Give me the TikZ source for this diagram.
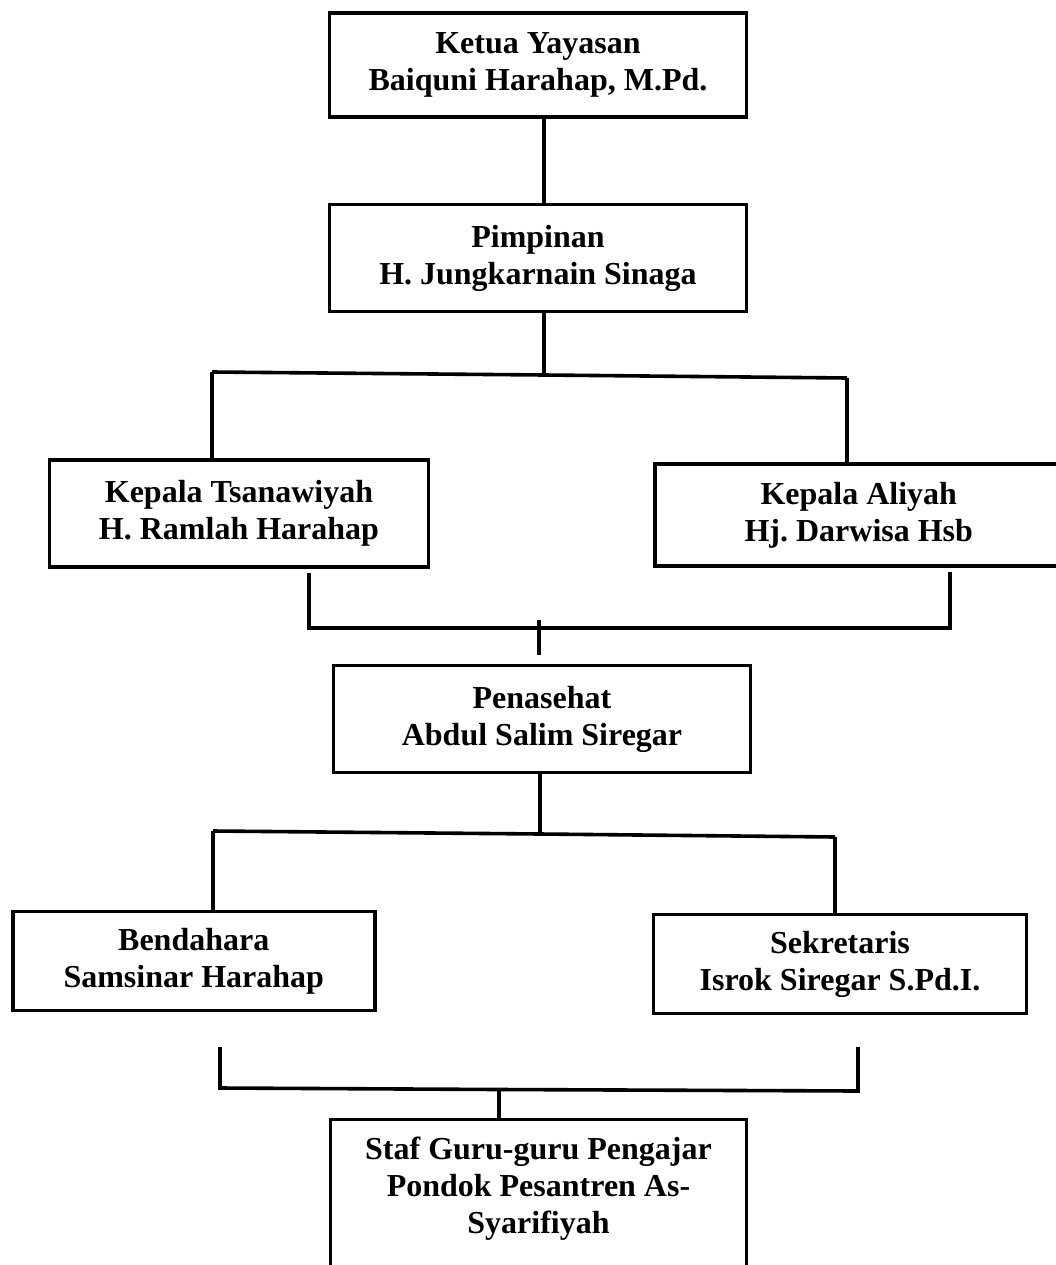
\documentclass[tikz,border=0pt]{standalone}
\usepackage{fontspec}
\setmainfont{Liberation Serif}
\begin{document}
\begin{tikzpicture}[x=1pt,y=-1pt,
  box/.style={draw, line width=3.8pt, rectangle, align=center,
    font=\fontsize{32}{37}\selectfont\bfseries\frenchspacing, inner sep=0pt},
  link/.style={line width=3.6pt}]
\clip (0,0) rectangle (1056,1265);
\fill[white] (0,0) rectangle (1056,1265);

% boxes
\node[box, minimum width=417pt, minimum height=104pt] (ketua) at (538,65)
  {Ketua Yayasan\\Baiquni Harahap, M.Pd.};
\node[box, minimum width=417pt, minimum height=107pt] (pimpinan) at (538,258)
  {Pimpinan\\H. Jungkarnain Sinaga};
\node[box, minimum width=379pt, minimum height=107pt] (tsan) at (239,513.5)
  {Kepala Tsanawiyah\\H. Ramlah Harahap};
\node[box, minimum width=408pt, minimum height=102pt] (aliyah) at (858.75,515)
  {Kepala Aliyah\\Hj. Darwisa Hsb};
\node[box, minimum width=417pt, minimum height=107pt] (penasehat) at (542,719)
  {Penasehat\\Abdul Salim Siregar};
\node[box, minimum width=362pt, minimum height=99pt] (bendahara) at (193.75,961)
  {Bendahara\\Samsinar Harahap};
\node[box, minimum width=373pt, minimum height=99pt] (sekretaris) at (840,964)
  {Sekretaris\\Isrok Siregar S.Pd.I.};
\node[box, anchor=north, minimum width=416pt, inner ysep=18pt] (staf) at (538.5,1117.5)
  {Staf Guru-guru Pengajar\\Pondok Pesantren As-\\Syarifiyah\\[80pt]\mbox{}};

% level 1
\coordinate (a1) at (544,0);
\draw[link] (ketua.south -| a1) -- (pimpinan.north -| a1);

% level 2
\coordinate (j1L) at (212,372);
\coordinate (j1M) at (544,375);
\coordinate (j1R) at (847,378);
\draw[link] (pimpinan.south -| j1M) -- (j1M);
\draw[link] (j1L) -- (j1M) -- (j1R);
\draw[link] (j1L) -- (j1L |- tsan.north);
\draw[link] (j1R) -- (j1R |- aliyah.north);

% level 3
\coordinate (d2L) at (309,573);
\coordinate (j2L) at (309,628);
\coordinate (d2R) at (950,572);
\coordinate (j2R) at (950,628);
\coordinate (j2T) at (539,620);
\coordinate (j2B) at (539,655);
\draw[link] (d2L) -- (j2L) -- (j2R) -- (d2R);
\draw[link] (j2T) -- (j2B);

% level 4
\coordinate (j3L) at (213,831);
\coordinate (j3M) at (540,834);
\coordinate (j3R) at (835,837);
\draw[link] (penasehat.south -| j3M) -- (j3M);
\draw[link] (j3L) -- (j3M) -- (j3R);
\draw[link] (j3L) -- (j3L |- bendahara.north);
\draw[link] (j3R) -- (j3R |- sekretaris.north);

% level 5
\coordinate (d4L) at (220,1047);
\coordinate (j4L) at (220,1088);
\coordinate (j4M) at (499,1089.5);
\coordinate (j4R) at (858,1091);
\coordinate (d4R) at (858,1047);
\draw[link] (d4L) -- (j4L) -- (j4M) -- (j4R) -- (d4R);
\draw[link] (j4M) -- (staf.north -| j4M);
\end{tikzpicture}
\end{document}
